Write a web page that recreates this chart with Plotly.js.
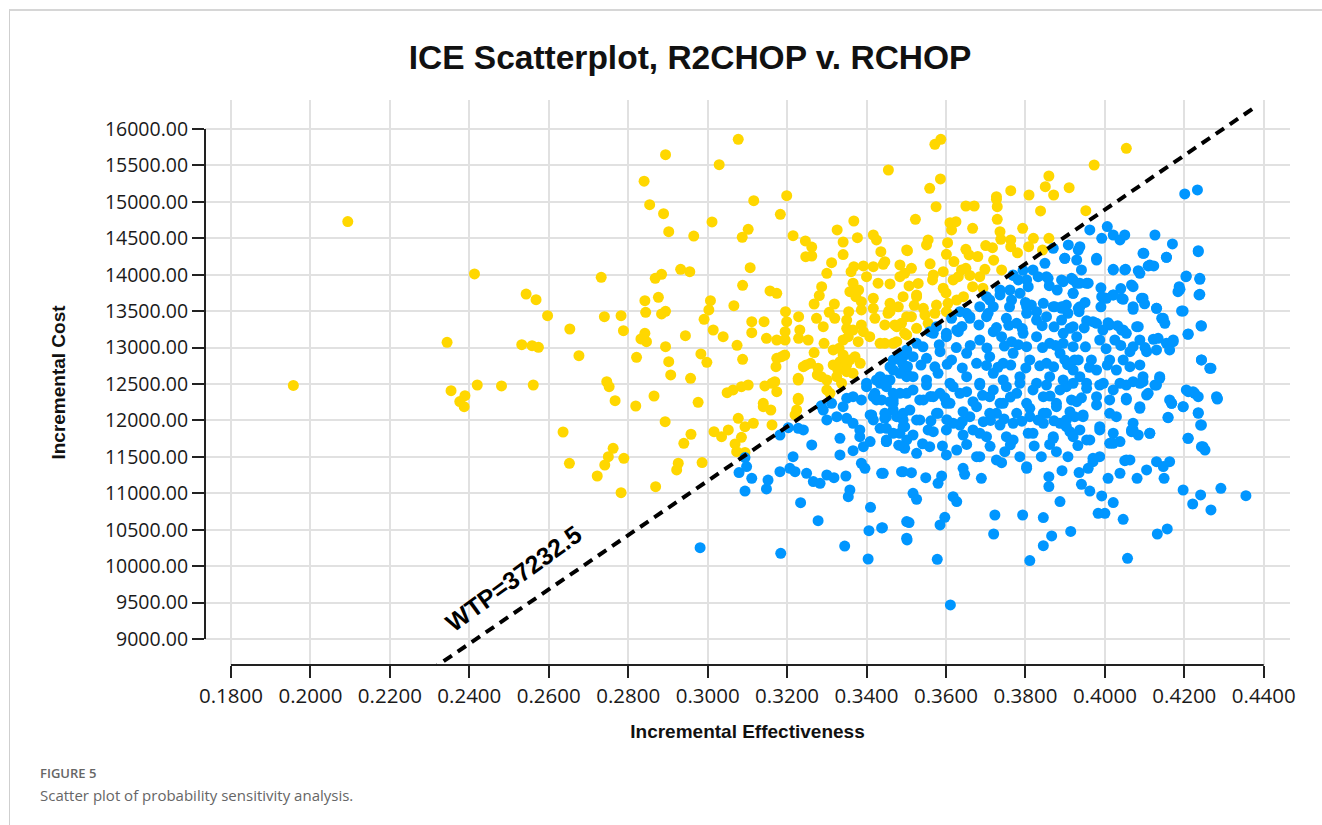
<!DOCTYPE html>
<html>
<head>
<meta charset="utf-8">
<script src="https://cdn.plot.ly/plotly-3.0.1.min.js"></script>
<style>
  html, body { margin: 0; padding: 0; background: #ffffff; }
  #wrap { position: relative; width: 1322px; height: 825px; overflow: hidden; }
  #frame { position: absolute; left: 9px; top: 9px; right: 0; bottom: 0;
           border-left: 1px solid #cfcfcf; border-top: 2px solid #d6d6d6; pointer-events: none; }
  #chart { position: absolute; left: 0; top: 0; width: 1322px; height: 825px; }
</style>
</head>
<body>
<div id="wrap">
  <div id="chart"></div>
  <div id="frame"></div>
</div>
<script>
// ---------- DATA ----------
const chartTitle = "ICE Scatterplot, R2CHOP v. RCHOP";
const xAxisTitle = "Incremental Effectiveness";
const yAxisTitle = "Incremental Cost";
const wtpValue = 37232.5;
const wtpLabel = "WTP=37232.5";
const wtpLineX = [0.2300, 0.4378];
const figureLabel = "FIGURE 5";
const figureCaption = "Scatter plot of probability sensitivity analysis.";

// simulations above the WTP line (not cost-effective) [effectiveness, cost]
const aboveWTP = [
[0.2094,14730],[0.1957,12480],[0.2413,14010],[0.2543,13735],[0.2568,13657],[0.2597,13437],[0.2653,13255],[0.2676,12889],
[0.2344,13072],[0.2532,13040],[0.2558,13026],[0.2574,13004],[0.2354,12408],[0.2389,12340],[0.2376,12258],[0.2387,12189],
[0.2420,12486],[0.2481,12473],[0.2561,12486],[0.2636,11841],[0.2652,11411],[0.3077,15858],[0.2894,15647],[0.3029,15510],
[0.3455,15437],[0.2840,15283],[0.2854,14961],[0.2889,14837],[0.2902,14591],[0.2965,14531],[0.3011,14724],[0.3116,15016],
[0.3199,15085],[0.3183,14829],[0.3102,14623],[0.3087,14514],[0.3215,14536],[0.3246,14463],[0.3262,14380],[0.3247,14247],
[0.3262,14257],[0.3326,14614],[0.3368,14737],[0.3377,14508],[0.3341,14449],[0.3341,14276],[0.3417,14545],[0.3425,14477],
[0.3436,14316],[0.3312,14165],[0.3300,14019],[0.2732,13964],[0.2868,13951],[0.2884,14006],[0.2932,14074],[0.2955,14041],
[0.3107,14096],[0.3088,13855],[0.3157,13777],[0.3174,13745],[0.3287,13836],[0.3281,13713],[0.3268,13598],[0.3319,13598],
[0.3306,13484],[0.3320,13402],[0.3355,13493],[0.3361,14041],[0.3368,14110],[0.3392,14120],[0.3417,14110],[0.3442,14143],
[0.3484,14134],[0.3501,14339],[0.3366,13883],[0.3380,13790],[0.3358,13767],[0.3373,13699],[0.3387,13630],[0.3400,13973],
[0.3429,13883],[0.3459,13873],[0.3417,13677],[0.3417,13539],[0.3421,13402],[0.3456,13502],[0.3484,13973],[0.3492,13699],
[0.3446,13310],[0.3471,13310],[0.3501,13424],[0.2740,13424],[0.2782,13438],[0.2788,13232],[0.2842,13644],[0.2844,13484],
[0.2876,13690],[0.2884,13461],[0.2894,13498],[0.2832,13118],[0.2842,13196],[0.2846,13081],[0.2944,13163],[0.2894,13012],
[0.2821,12866],[0.2902,12806],[0.2907,12624],[0.2957,12578],[0.2746,12531],[0.2752,12463],[0.2767,12271],[0.2819,12198],
[0.2865,12335],[0.2976,12248],[0.3007,13644],[0.3003,13516],[0.2991,13388],[0.3014,13241],[0.3066,13575],[0.3039,13150],
[0.3074,13031],[0.3111,13355],[0.3111,13204],[0.3142,13355],[0.3148,13127],[0.3174,13104],[0.3196,13493],[0.3199,13355],
[0.3195,13218],[0.3195,13104],[0.3229,13424],[0.3232,13241],[0.3229,13127],[0.3253,13104],[0.3274,13402],[0.3291,13287],
[0.3293,13058],[0.3268,12931],[0.2983,12912],[0.2998,12798],[0.3088,12839],[0.3186,12875],[0.3172,12738],[0.3241,12738],
[0.3259,12784],[0.3278,12716],[0.3331,12990],[0.3350,13264],[0.3354,13150],[0.3387,13310],[0.3392,13218],[0.3371,12875],
[0.3333,12806],[0.3328,12692],[0.3286,12600],[0.3228,12578],[0.3350,12669],[0.3049,12381],[0.3064,12418],[0.3085,12463],
[0.3102,12486],[0.3144,12473],[0.3169,12531],[0.3174,12394],[0.3140,12235],[0.3228,12304],[0.3300,12418],[0.2893,11983],
[0.2762,11617],[0.2750,11502],[0.2741,11388],[0.2722,11237],[0.2789,11480],[0.2782,11008],[0.2869,11091],[0.2926,11412],
[0.2922,11320],[0.2940,11686],[0.2958,11810],[0.2986,11422],[0.3016,11846],[0.3035,11777],[0.3052,11869],[0.3077,12029],
[0.3094,11914],[0.3115,11961],[0.3069,11677],[0.3085,11768],[0.3094,11560],[0.3073,11571],[0.3162,11938],[0.3140,12189],
[0.3159,12143],[0.3228,12281],[0.3224,12143],[0.3220,12075],[0.3228,12555],[0.3276,12624],[0.3300,12555],[0.3325,12600],
[0.3337,12510],[0.3350,12761],[0.3384,12784],[0.3366,12646],[0.3325,12738],[0.3308,12372],[0.3162,12510],[0.3248,12761],
[0.3174,12853],[0.3194,12898],[0.3572,15790],[0.3587,15859],[0.3559,15186],[0.3586,15314],[0.4054,15735],[0.3973,15506],
[0.3859,15355],[0.3850,15208],[0.3910,15194],[0.3763,15153],[0.3809,15094],[0.3727,15071],[0.3871,15094],[0.3575,14934],
[0.3523,14760],[0.3610,14714],[0.3625,14728],[0.3614,14614],[0.3667,14637],[0.3650,14943],[0.3671,14943],[0.3727,15035],
[0.3729,14934],[0.3838,14875],[0.3952,14879],[0.3729,14760],[0.3793,14637],[0.3736,14591],[0.3738,14486],[0.3763,14477],
[0.3763,14385],[0.3717,14371],[0.3808,14385],[0.3859,14500],[0.3843,14339],[0.3555,14477],[0.3551,14408],[0.3604,14440],
[0.3601,14280],[0.3650,14349],[0.3658,14271],[0.3503,14330],[0.3446,14179],[0.3513,14088],[0.3496,14019],[0.3507,13846],
[0.3526,13722],[0.3568,13996],[0.3593,14041],[0.3566,13928],[0.3593,13814],[0.3618,13928],[0.3639,14065],[0.3650,14088],
[0.3631,13973],[0.3698,14074],[0.3685,13973],[0.3740,14065],[0.3667,13836],[0.3693,13814],[0.3459,13608],[0.3459,13493],
[0.3526,13699],[0.3543,13539],[0.3576,13584],[0.3605,13608],[0.3627,13653],[0.3644,13699],[0.3547,13447],[0.3572,13470],
[0.3601,13493],[0.3488,13333],[0.3513,13424],[0.3496,13196],[0.3526,13264],[0.3555,13333],[0.3446,13058],[0.3476,13081],
[0.3350,13378],[0.3366,13241],[0.3387,13516],[0.3454,13470],[0.3476,13287],[0.3501,13173],[0.3467,13059],[0.3434,13059],
[0.3408,13149],[0.3379,13081],[0.3341,13104],[0.3316,12967],[0.3341,12898],[0.3358,12830],[0.3316,12761],
[0.3530,13880],[0.3560,14150],[0.3620,14180],[0.3680,14250],[0.3700,14400],[0.3600,13750],[0.3660,13990],[0.3720,14200],
[0.3780,14300],[0.3820,14500],[0.3480,13560],[0.3520,13580]
];

// simulations below the WTP line (cost-effective) [effectiveness, cost]
const belowWTP = [
[0.4201,15108],[0.4233,15163],[0.3962,14614],[0.4006,14660],[0.3992,14500],[0.4021,14545],[0.4038,14477],[0.4050,14545],
[0.4126,14545],[0.4170,14422],[0.4235,14330],[0.4155,14239],[0.4096,14294],[0.4109,14120],[0.4123,14120],[0.4084,14056],
[0.4052,14074],[0.4021,14074],[0.3979,14202],[0.3937,14385],[0.3908,14408],[0.3899,14225],[0.3929,14202],[0.3941,14065],
[0.3849,14157],[0.3870,14362],[0.3853,13973],[0.3891,13928],[0.3916,13951],[0.3937,13883],[0.3958,13883],[0.3920,13745],
[0.4204,13973],[0.4239,13951],[0.4187,13836],[0.4184,13767],[0.4237,13722],[0.4193,13502],[0.4242,13300],[0.4209,13182],
[0.4071,13836],[0.4096,13677],[0.4071,13561],[0.4130,13539],[0.4147,13402],[0.4084,13287],[0.4122,13114],[0.4004,13677],
[0.4021,13722],[0.4042,13677],[0.3992,13699],[0.3937,13561],[0.3935,13493],[0.3970,13355],[0.4012,13310],[0.4046,13241],
[0.4243,12830],[0.4264,12716],[0.4155,13058],[0.4172,13104],[0.4205,12418],[0.4222,12394],[0.4281,12326],[0.4163,12281],
[0.4096,12600],[0.4138,12578],[0.4071,13012],
[0.3769,13990],[0.3794,14060],[0.3819,14065],[0.3782,13928],[0.3807,13836],[0.3761,13790],[0.3736,13722],[0.3710,13653],
[0.3685,13561],[0.3652,13470],[0.3614,13402],[0.3576,13287],[0.3803,13561],[0.3828,13492],[0.3870,13561],[0.3891,13561],
[0.3706,13470],[0.3660,13424],[0.3627,13241],[0.3601,13196],[0.3559,13218],[0.3526,13059],[0.3501,12967],[0.3467,12830],
[0.4283,12294],[0.4168,12235],[0.4197,12189],[0.4235,12107],[0.4159,12043],[0.4241,11937],[0.4209,11755],[0.4243,11640],
[0.4252,11594],[0.4113,11823],[0.4071,11869],[0.4084,11800],[0.4130,11434],[0.4163,11434],[0.4147,11366],[0.4105,11320],
[0.4149,11206],[0.4081,11206],[0.4038,11275],[0.4008,11206],[0.4050,11447],[0.4063,11457],[0.4197,11045],[0.4221,10853],
[0.4241,10977],[0.4267,10771],[0.4292,11068],[0.4355,10967],[0.4132,10441],[0.4157,10510],[0.4057,10108],[0.4046,10643],
[0.4021,10872],[0.3992,10963],[0.3983,10725],[0.4000,10725],[0.3962,11031],[0.3941,11123],[0.3935,11284],[0.3958,11343],
[0.3970,11434],[0.3987,11502],[0.3914,10476],[0.3866,10414],[0.3845,10281],[0.3845,10667],[0.3811,10076],[0.3793,10702],
[0.3723,10702],[0.3720,10441],[0.3887,10886],[0.3859,11093],[0.3859,11228],[0.3892,11310],[0.3689,11206],[0.3647,11260],
[0.3643,11343],[0.3627,10886],[0.3618,10953],[0.3597,10670],[0.3585,10565],[0.3578,10094],[0.3611,9467],[0.3507,10598],
[0.3502,10359],[0.3440,10528],[0.3580,11137],[0.3589,11237],[0.3549,11214],[0.3517,11000],[0.3526,10918],[0.3488,11297],
[0.3513,11283],[0.3442,11274],[0.3685,11502],[0.3803,11343],[0.3740,11420],
[0.2981,10253],[0.3184,10176],[0.3345,10276],[0.3404,10098],[0.3406,10487],[0.3438,10524],[0.3410,10808],[0.3278,10624],
[0.3234,10871],[0.3094,11031],[0.3148,11059],[0.3152,11182],[0.3111,11206],[0.3079,11284],[0.3098,11366],[0.3094,11490],
[0.3182,11297],[0.3207,11343],[0.3215,11502],[0.3220,11297],[0.3249,11274],[0.3266,11160],[0.3283,11137],[0.3300,11251],
[0.3318,11214],[0.3348,11237],[0.3358,11045],[0.3354,10953],[0.3387,11412],[0.3396,11343],[0.3438,11274],[0.3492,11297],
[0.3501,10611],[0.3501,10383],[0.3262,11663],[0.3228,11891],[0.3241,11869],[0.3203,11900],[0.3182,11800],[0.3333,11755],
[0.3333,11526],[0.3366,11585],[0.3392,11640],[0.3409,11709],[0.3450,11709],[0.3492,11640],[0.3300,12006],[0.3325,12052],
[0.3350,12029],[0.3366,11961],[0.3383,11869],[0.3417,12006],[0.3434,11891],[0.3291,12143],[0.3312,12235],[0.3341,12189],
[0.3350,12304],[0.3387,12281],[0.3409,12075],[0.3421,12372],[0.3434,12510],[0.3459,12555],[0.3467,12281],[0.3476,12052],
[0.3492,11914],[0.3467,12692],[0.3492,12761],[0.3484,12898],[0.3501,12647],[0.3459,12738],[0.3425,12555],[0.3400,12463],
[0.3417,12326],[0.3438,12281],[0.3467,12143],[0.3492,12006],[0.3413,12075],[0.3446,12029],[0.3450,11732],[0.3484,11824],
[0.3501,11732],[0.3383,11777],[0.3286,12200],[0.3366,12326],[0.3400,12510],[0.3434,12600],[0.3492,12875],[0.3501,12600],
[0.3467,12372],[0.3425,12281],
[0.3769,13996],[0.3803,13928],[0.3832,13973],[0.3857,13951],[0.3895,13904],[0.3929,13882],[0.3920,13745],
[0.3702,13698],[0.3736,13790],[0.3765,13653],[0.3786,13745],[0.3815,13584],[0.3845,13608],[0.3874,13561],[0.3903,13584],[0.3719,13561],
[0.3635,13492],[0.3660,13402],[0.3702,13424],[0.3752,13402],[0.3778,13333],[0.3803,13470],[0.3828,13378],[0.3853,13424],
[0.3891,13378],[0.3920,13287],[0.3907,13470],
[0.3568,13196],[0.3601,13149],[0.3631,13218],[0.3685,13104],[0.3719,13218],[0.3740,13149],[0.3765,13081],[0.3794,13196],
[0.3828,13149],[0.3861,13059],[0.3895,13196],[0.3920,13012],[0.3803,13012],
[0.3484,12830],[0.3517,12875],[0.3551,12853],[0.3585,12943],[0.3614,12830],[0.3652,12922],[0.3677,12784],[0.3710,12875],
[0.3744,12784],[0.3769,12922],[0.3811,12830],[0.3853,12784],[0.3887,12922],[0.3924,12830],
[0.3450,12555],[0.3484,12647],[0.3517,12600],[0.3551,12555],[0.3580,12647],[0.3610,12510],[0.3652,12600],[0.3685,12510],
[0.3719,12647],[0.3744,12555],[0.3786,12600],[0.3828,12510],[0.3861,12600],[0.3895,12555],[0.3920,12692],
[0.3459,12257],[0.3501,12372],[0.3534,12281],[0.3568,12326],[0.3601,12235],[0.3635,12372],[0.3668,12257],[0.3710,12326],
[0.3736,12235],[0.3778,12372],[0.3803,12235],[0.3845,12326],[0.3878,12235],[0.3916,12281],
[0.3450,12051],[0.3492,12098],[0.3534,12006],[0.3580,12098],[0.3618,11961],[0.3660,12051],[0.3694,11983],[0.3727,12098],
[0.3769,11961],[0.3811,12051],[0.3853,12098],[0.3887,11961],[0.3924,12051],
[0.3467,11824],[0.3517,11800],[0.3568,11845],[0.3643,11800],[0.3685,11824],[0.3752,11777],[0.3819,11824],[0.3870,11777],[0.3912,11845],
[0.3899,14225],[0.3933,14339],[0.3979,14225],[0.4021,14065],[0.4050,14065],[0.4088,14019],[0.4113,14133],[0.4098,14294],
[0.4155,14239],[0.4235,14316],[0.4205,13982],[0.4239,13937],[0.4189,13800],[0.4239,13731],[0.4067,13859],[0.3996,13676],
[0.4021,13722],[0.4046,13663],[0.3920,13928],[0.3954,13882],[0.3891,13539],[0.3933,13539],[0.4092,13676],[0.4130,13539],
[0.4071,13525],[0.4197,13502],[0.4143,13402],[0.4151,13333],[0.4243,13296],[0.4210,13186],[0.4080,13287],[0.3954,13369],
[0.3979,13333],[0.4008,13342],[0.4042,13241],[0.3912,13264],[0.3895,13059],[0.3929,13149],[0.3987,13104],[0.4025,13104],
[0.4054,13196],[0.4088,13104],[0.4134,13127],[0.4172,13081],[0.4163,12967],[0.4130,12967],[0.4105,12943],[0.4063,12943],
[0.4046,12830],[0.4012,12830],[0.3966,12830],[0.3933,12830],[0.3899,12830],[0.4243,12830],[0.4267,12716],[0.3937,12600],
[0.3979,12692],[0.4029,12692],[0.4063,12738],[0.4088,12761],[0.4138,12600],[0.4126,12486],[0.4096,12532],[0.4071,12532],
[0.4038,12510],[0.3996,12510],[0.3954,12510],[0.3903,12463],[0.4210,12394],[0.4226,12372],[0.4235,12326],[0.4283,12304],
[0.4168,12235],[0.4197,12189],[0.4235,12098],[0.4159,12038],[0.4243,11937],[0.3929,12257],[0.3979,12326],[0.4012,12281],
[0.4054,12304],[0.4088,12189],[0.4109,12372],[0.4071,11961],[0.4113,11824],[0.4029,12051],[0.3987,11914],[0.3945,12051],
[0.3903,12006],[0.3920,11777],[0.3962,11732],[0.4012,11686],[0.4067,11845],[0.4210,11755],[0.4247,11640],
[0.3450,12463],[0.3484,12372],[0.3517,12418],[0.3551,12486],[0.3585,12372],[0.3618,12463],[0.3652,12394],[0.3685,12486],
[0.3719,12418],[0.3752,12463],[0.3786,12510],[0.3819,12418],[0.3853,12486],[0.3887,12418],[0.3920,12510],[0.3954,12441],
[0.3987,12486],[0.4021,12418],[0.4054,12486],[0.4088,12510],[0.4130,12486],
[0.3446,12098],[0.3467,12235],[0.3509,12143],[0.3543,12281],[0.3576,12098],[0.3610,12235],[0.3643,12120],[0.3677,12189],
[0.3710,12098],[0.3744,12235],[0.3778,12098],[0.3811,12166],[0.3845,12098],[0.3878,12189],[0.3912,12120],[0.3945,12075],
[0.3979,12212],[0.4012,12098],[0.4054,12281],[0.4088,12166],[0.4105,12349],
[0.3450,11892],[0.3496,11914],[0.3526,12006],[0.3555,11869],[0.3601,11869],[0.3635,11937],[0.3668,11869],[0.3702,11777],
[0.3736,11937],[0.3769,11732],[0.3807,11824],[0.3845,11961],[0.3870,11755],[0.3903,11914],[0.3937,11869],[0.3954,11732],
[0.3987,11869],[0.4021,11824],[0.4038,11709],[0.4067,11869],
[0.3450,11709],[0.3496,11618],[0.3526,11549],[0.3559,11640],[0.3601,11526],[0.3627,11594],[0.3677,11502],[0.3727,11457],
[0.3748,11571],[0.3786,11502],[0.3803,11365],[0.3840,11502],[0.3878,11571],[0.3907,11502],[0.3970,11480],[0.4021,11686],[0.4054,11457],
[0.3640,13290],[0.3683,13310],[0.3727,13275],[0.3758,13305],[0.3792,13260],[0.3842,13300],[0.3872,13285],[0.3948,13270],
[0.3995,13240],[0.4032,13300],
[0.3542,13010],[0.3583,13040],[0.3626,13000],[0.3661,13030],[0.3703,12995],[0.3747,13020],[0.3782,13040],[0.3843,13000],
[0.3876,13030],[0.3951,13010],[0.4003,12985],[0.4040,13030],[0.4101,13000],
[0.3503,12740],[0.3537,12760],[0.3572,12735],[0.3603,12770],[0.3641,12720],[0.3702,12755],[0.3731,12730],[0.3763,12760],
[0.3801,12720],[0.3836,12750],[0.3871,12735],[0.3906,12765],[0.3961,12730],[0.4006,12760],
[0.3561,12330],[0.3597,12310],[0.3692,12345],[0.3762,12320],[0.3862,12335],[0.3941,12310],
[0.3562,11995],[0.3602,12010],[0.3641,11985],[0.3712,12000],[0.3746,12020],[0.3791,11990],[0.3832,12005],[0.3872,11995],
[0.3481,11660],[0.3541,11680],[0.3591,11650],[0.3652,11670],[0.3711,11645],[0.3762,11665],[0.3822,11650],[0.3861,11670],[0.3932,11655],
[0.3760,13560],[0.3800,13620],[0.3950,13620],[0.3990,13560],[0.4100,13600],
[0.3860,13850],[0.3880,13790],[0.3990,13820],[0.4040,13810]
];

// ---------- CHART ----------
const yellow = '#FFD700';
const blue = '#0096FF';

const traces = [
  {
    type: 'scatter', mode: 'markers', name: 'Above WTP',
    x: aboveWTP.map(p => p[0]), y: aboveWTP.map(p => p[1]),
    marker: { size: 11, color: yellow, line: { width: 0 } },
    hoverinfo: 'x+y'
  },
  {
    type: 'scatter', mode: 'markers', name: 'Below WTP',
    x: belowWTP.map(p => p[0]), y: belowWTP.map(p => p[1]),
    marker: { size: 11, color: blue, line: { width: 0 } },
    hoverinfo: 'x+y'
  },
  {
    type: 'scatter', mode: 'lines', name: wtpLabel,
    x: wtpLineX, y: wtpLineX.map(v => v * wtpValue),
    line: { color: '#000000', width: 4, dash: '10px,7px' },
    hoverinfo: 'skip'
  }
];

const axisTitleFont = { family: 'Liberation Sans, Arial, sans-serif', size: 19, color: '#111', weight: 700 };

const layout = {
  width: 1322, height: 825,
  margin: { l: 205, r: 32, t: 100, b: 160 },
  paper_bgcolor: 'rgba(0,0,0,0)', plot_bgcolor: 'rgba(0,0,0,0)',
  showlegend: false,
  title: {
    text: chartTitle,
    font: { family: 'Liberation Sans, Arial, sans-serif', size: 33.5, color: '#111', weight: 700 },
    xref: 'container', x: 0.5220, xanchor: 'center',
    yref: 'container', y: 0.931, yanchor: 'middle'
  },
  xaxis: {
    range: [0.17346, 0.4466],
    tick0: 0.18, dtick: 0.02, tickformat: '.4f',
    ticks: 'outside', ticklen: 12, tickwidth: 2, tickcolor: '#222',
    showgrid: true, gridcolor: '#e1e1e1', gridwidth: 2,
    zeroline: false, showline: false,
    tickfont: { family: 'Open Sans, Noto Sans, sans-serif', size: 20.5, color: '#1a1a1a' },
    title: { text: xAxisTitle, font: axisTitleFont, standoff: 17 }
  },
  yaxis: {
    range: [8643, 16398],
    tick0: 9000, dtick: 500, tickformat: '.2f',
    ticks: 'outside', ticklen: 12, tickwidth: 2, tickcolor: '#222',
    showgrid: true, gridcolor: '#e1e1e1', gridwidth: 2,
    zeroline: false, showline: false,
    tickfont: { family: 'Open Sans, Noto Sans, sans-serif', size: 19.5, color: '#1a1a1a' },
    title: { text: yAxisTitle, font: axisTitleFont, standoff: 34 }
  },
  shapes: [
    { type: 'line', xref: 'x', yref: 'paper', x0: 0.18, x1: 0.44, y0: 0, y1: 0,
      line: { color: '#222', width: 2 } },
    { type: 'line', xref: 'paper', yref: 'y', x0: 0, x1: 0, y0: 9000, y1: 16000,
      line: { color: '#222', width: 2 } }
  ],
  annotations: [
    { text: wtpLabel, x: 0.2512, y: 9840, xref: 'x', yref: 'y', showarrow: false,
      textangle: -36,
      font: { family: 'Liberation Sans, Arial, sans-serif', size: 25, color: '#000', weight: 700 } },
    { text: figureLabel, xref: 'paper', yref: 'paper', x: -0.1535, y: -0.191,
      xanchor: 'left', yanchor: 'middle', showarrow: false,
      font: { family: 'Open Sans, Noto Sans, sans-serif', size: 13, color: '#666', weight: 600 } },
    { text: figureCaption, xref: 'paper', yref: 'paper', x: -0.1535, y: -0.230,
      xanchor: 'left', yanchor: 'middle', showarrow: false,
      font: { family: 'Open Sans, Noto Sans, sans-serif', size: 15, color: '#666' } }
  ]
};

Plotly.newPlot('chart', traces, layout, { displayModeBar: false, staticPlot: true });
</script>
</body>
</html>
